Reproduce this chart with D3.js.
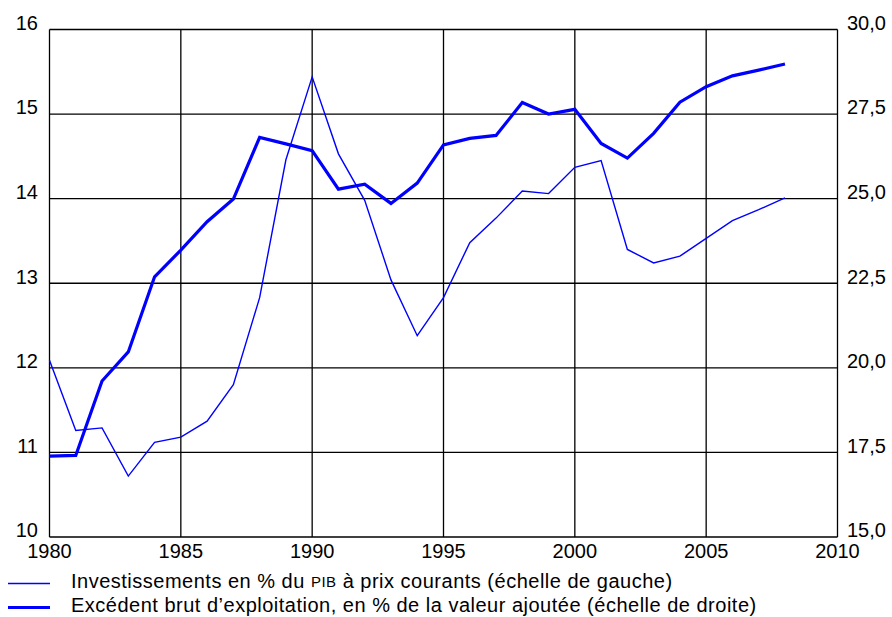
<!DOCTYPE html>
<html>
<head>
<meta charset="utf-8">
<script src="https://cdn.jsdelivr.net/npm/d3@7"></script>
<style>
  body { margin: 0; background: #fff; }
  text { font-family: "Liberation Sans", Arial, sans-serif; fill: #000; }
</style>
</head>
<body>
<div id="chart"></div>
<script>
// years and series
const years = d3.range(1980, 2009);
const investissements = [12.09, 11.26, 11.29, 10.72, 11.12, 11.18, 11.37, 11.80, 12.83, 14.46,
	15.44, 14.53, 13.98, 13.04, 12.38, 12.83, 13.48, 13.77, 14.09, 14.06,
	14.37, 14.45, 13.40, 13.24, 13.32, 13.53, 13.74, 13.87, 14.01];
const excedent = [17.39, 17.41, 19.61, 20.47, 22.69, 23.48, 24.32, 24.99, 26.81, 26.62,
	26.42, 25.28, 25.43, 24.86, 25.46, 26.59, 26.78, 26.87, 27.84, 27.50,
	27.64, 26.63, 26.20, 26.93, 27.85, 28.31, 28.63, 28.80, 28.98];
const xTicks = [1980, 1985, 1990, 1995, 2000, 2005, 2010];
const leftTicks = [10, 11, 12, 13, 14, 15, 16];
const rightTicks = [15, 17.5, 20, 22.5, 25, 27.5, 30];

const width = 892, height = 617;
const margin = { top: 29.5, right: 54.5, bottom: 80, left: 49.5 };

const svg = d3.select("#chart").append("svg")
	.attr("width", width)
	.attr("height", height);

const x = d3.scaleLinear().domain([1980, 2010]).range([margin.left, width - margin.right]);
const yLeft = d3.scaleLinear().domain([10, 16]).range([height - margin.bottom, margin.top]);
const yRight = d3.scaleLinear().domain([15, 30]).range([height - margin.bottom, margin.top]);

const fontSize = "20px";

// grid
svg.append("g").selectAll("line.h")
	.data(leftTicks)
	.enter()
	.append("line")
	.attr("x1", x(1980)).attr("x2", x(2010))
	.attr("y1", d => yLeft(d)).attr("y2", d => yLeft(d))
	.attr("stroke", "#000").attr("stroke-width", 1.3);

svg.append("g").selectAll("line.v")
	.data(xTicks)
	.enter()
	.append("line")
	.attr("y1", yLeft(10)).attr("y2", yLeft(16))
	.attr("x1", d => x(d)).attr("x2", d => x(d))
	.attr("stroke", "#000").attr("stroke-width", 1.3);

// axis labels
svg.append("g").selectAll("text")
	.data(leftTicks)
	.enter()
	.append("text")
	.attr("x", 38)
	.attr("y", d => yLeft(d) - 5)
	.attr("text-anchor", "end")
	.attr("dominant-baseline", "middle")
	.style("font-size", fontSize)
	.text(d => d);

svg.append("g").selectAll("text")
	.data(rightTicks)
	.enter()
	.append("text")
	.attr("x", 847)
	.attr("y", d => yRight(d) - 5)
	.attr("dominant-baseline", "middle")
	.style("font-size", fontSize)
	.text(d => d3.format(".1f")(d).replace(".", ","));

svg.append("g").selectAll("text")
	.data(xTicks)
	.enter()
	.append("text")
	.attr("x", d => x(d))
	.attr("y", 553)
	.attr("text-anchor", "middle")
	.attr("dominant-baseline", "middle")
	.style("font-size", fontSize)
	.text(d => d);

// lines
const lineLeft = d3.line().x((d, i) => x(years[i])).y(d => yLeft(d));
const lineRight = d3.line().x((d, i) => x(years[i])).y(d => yRight(d));

svg.append("path")
	.datum(investissements)
	.attr("d", lineLeft)
	.attr("fill", "none")
	.attr("stroke", "#0000ff")
	.attr("stroke-width", 1.4);

svg.append("path")
	.datum(excedent)
	.attr("d", lineRight)
	.attr("fill", "none")
	.attr("stroke", "#0000ff")
	.attr("stroke-width", 3.2);

// legend
const legend = svg.append("g");
legend.append("line")
	.attr("x1", 8).attr("x2", 50).attr("y1", 583.5).attr("y2", 583.5)
	.attr("stroke", "#0000ff").attr("stroke-width", 1.4);
legend.append("line")
	.attr("x1", 8).attr("x2", 50).attr("y1", 607.5).attr("y2", 607.5)
	.attr("stroke", "#0000ff").attr("stroke-width", 3.2);

const t1 = legend.append("text")
	.attr("x", 71).attr("y", 583)
	.attr("dominant-baseline", "middle")
	.style("font-size", fontSize)
	.style("letter-spacing", "0.5px");
t1.append("tspan").text("Investissements en % du ");
t1.append("tspan").style("font-size", "15px").text("PIB");
t1.append("tspan").text(" à prix courants (échelle de gauche)");

legend.append("text")
	.attr("x", 71).attr("y", 607)
	.attr("dominant-baseline", "middle")
	.style("font-size", fontSize)
	.style("letter-spacing", "0.5px")
	.text("Excédent brut d’exploitation, en % de la valeur ajoutée (échelle de droite)");
</script>
</body>
</html>
